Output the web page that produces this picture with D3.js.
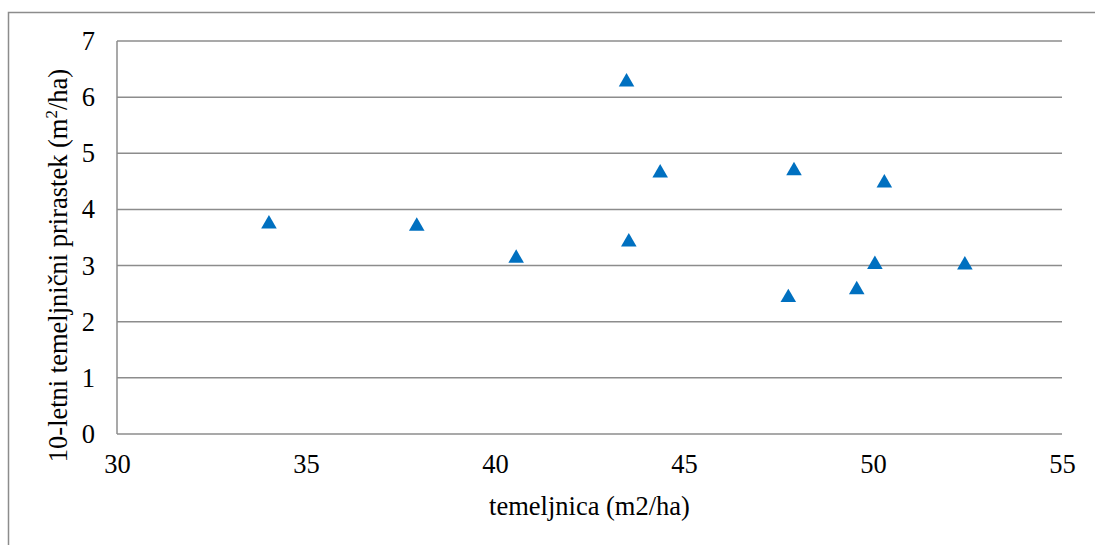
<!DOCTYPE html>
<html>
<head>
<meta charset="utf-8">
<script src="https://cdn.jsdelivr.net/npm/d3@7"></script>
<style>
  body { margin: 0; background: #fff; }
  svg text { font-family: "Liberation Serif", "Times New Roman", Times, serif !important; fill: #000; }
</style>
</head>
<body>
<div id="container"></div>
<script>
/* CONSTANTS AND GLOBALS */
const width = 1095,
  height = 545,
  margin = { top: 41, bottom: 111, left: 117, right: 33 };

/* DATA */
const basalArea = [34.02, 37.93, 40.56, 43.48, 43.54, 44.37, 47.76, 47.91, 49.57, 50.05, 50.3, 52.43];
const increment = [3.78, 3.74, 3.17, 6.31, 3.46, 4.69, 2.47, 4.73, 2.61, 3.06, 4.51, 3.05];
const xTicks = [30, 35, 40, 45, 50, 55];
const yTicks = [0, 1, 2, 3, 4, 5, 6, 7];

const data = basalArea.map((x, i) => ({ x: x, y: increment[i] }));

// SCALES
const xScale = d3.scaleLinear()
  .domain([30, 55])
  .range([margin.left, width - margin.right]);

const yScale = d3.scaleLinear()
  .domain([0, 7])
  .range([height - margin.bottom, margin.top]);

// CREATE SVG CONTAINER
const svg = d3.select("#container")
  .append("svg")
  .attr("width", width)
  .attr("height", height);

// outer chart border
svg.append("rect")
  .attr("x", 8.5)
  .attr("y", 12.5)
  .attr("width", width)
  .attr("height", height)
  .attr("fill", "none")
  .attr("stroke", "#8c8c8c")
  .attr("stroke-width", 1.5);

// GRIDLINES
svg.append("g")
  .selectAll("line")
  .data(yTicks)
  .join("line")
  .attr("x1", margin.left)
  .attr("x2", width - margin.right)
  .attr("y1", d => yScale(d))
  .attr("y2", d => yScale(d))
  .attr("stroke", "#8c8c8c")
  .attr("stroke-width", 1.5);

// left axis line
svg.append("line")
  .attr("x1", margin.left)
  .attr("x2", margin.left)
  .attr("y1", yScale(7))
  .attr("y2", yScale(0))
  .attr("stroke", "#8c8c8c")
  .attr("stroke-width", 1.5);

// BUILD AND CALL AXES (labels only)
const xAxis = d3.axisBottom(xScale).tickValues(xTicks).tickFormat(d3.format("d")).tickSize(0).tickPadding(0);
const xAxisGroup = svg.append("g")
  .attr("class", "xAxis")
  .attr("transform", `translate(0, ${height - margin.bottom})`)
  .call(xAxis);
xAxisGroup.select(".domain").remove();
xAxisGroup.selectAll("text")
  .attr("y", 39)
  .attr("dy", 0)
  .style("font-size", "26.5px");

const yAxis = d3.axisLeft(yScale).tickValues(yTicks).tickFormat(d3.format("d")).tickSize(0).tickPadding(22);
const yAxisGroup = svg.append("g")
  .attr("class", "yAxis")
  .attr("transform", `translate(${margin.left}, 0)`)
  .call(yAxis);
yAxisGroup.select(".domain").remove();
yAxisGroup.selectAll("text")
  .style("font-size", "26.5px");

// MARKERS
const triangle = d3.symbol().type(d3.symbolTriangle).size(105);
svg.append("g")
  .selectAll("path")
  .data(data)
  .join("path")
  .attr("transform", d => `translate(${xScale(d.x)}, ${yScale(d.y) + 2.3})`)
  .attr("d", triangle)
  .attr("fill", "#0070C0");

// Add X-Axis Title
svg.append("text")
  .attr("x", (margin.left + width - margin.right) / 2)
  .attr("y", 515)
  .style("text-anchor", "middle")
  .style("font-size", "26.5px")
  .text("temeljnica (m2/ha)");

// Add Y-Axis Title
const yTitle = svg.append("text")
  .attr("transform", `translate(67, ${(margin.top + height - margin.bottom) / 2 + 28}) rotate(-90)`)
  .style("text-anchor", "middle")
  .style("font-size", "26.5px");
yTitle.append("tspan").text("10-letni temeljnični prirastek (m");
yTitle.append("tspan").attr("dy", -10).style("font-size", "17px").text("2");
yTitle.append("tspan").attr("dy", 10).text("/ha)");
</script>
</body>
</html>
